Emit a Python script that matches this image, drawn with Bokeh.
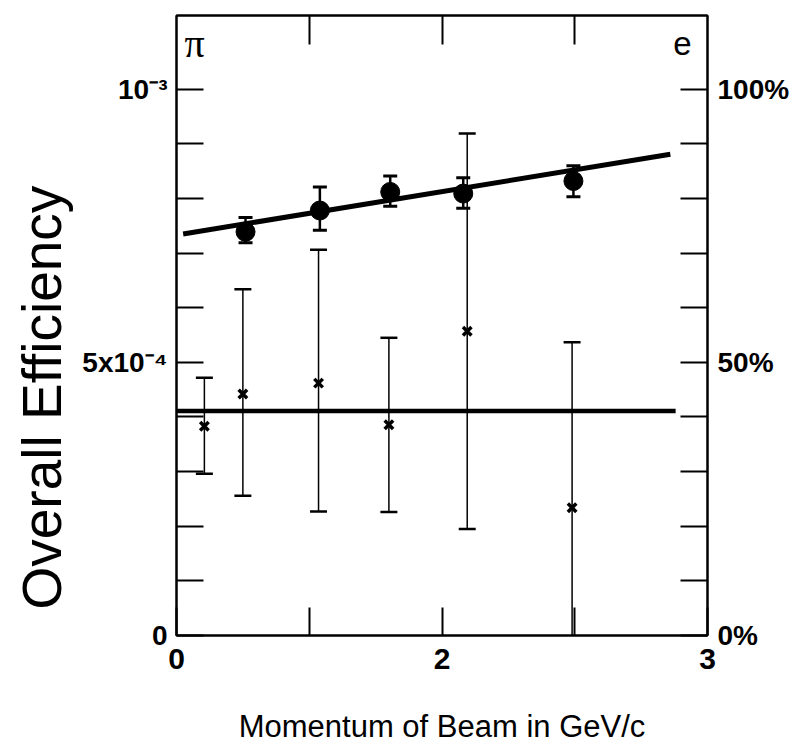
from bokeh.plotting import figure
from bokeh.models import (Range1d, LinearAxis, FixedTicker, Whisker, ColumnDataSource,
                          Label, TeeHead, Title)
from bokeh.embed import file_html
from bokeh.resources import INLINE

# ---------------- data (efficiency in units of 1e-4) ----------------
# electrons (filled circles)
p_e = [0.52, 1.08, 1.61, 2.16, 2.99]
eff_e = [7.39, 7.78, 8.12, 8.09, 8.32]
eff_e_hi = [7.65, 8.21, 8.41, 8.38, 8.60]
eff_e_lo = [7.19, 7.42, 7.86, 7.82, 8.03]

# pions (crosses)
p_pi = [0.21, 0.50, 1.07, 1.60, 2.19, 2.98]
eff_pi = [3.83, 4.42, 4.62, 3.86, 5.57, 2.34]
eff_pi_hi = [4.72, 6.34, 7.06, 5.45, 9.19, 5.37]
eff_pi_lo = [2.96, 2.56, 2.27, 2.26, 1.95, -0.53]

# fitted lines
fit_e_x = [0.05, 3.72]
fit_e_y = [7.35, 8.81]
fit_pi_x = [0.0, 3.76]
fit_pi_y = [4.11, 4.11]

# axes
x_ticks = [0, 1, 2, 3, 4]
x_tick_labels = {0: "0", 1: "", 2: "2", 3: "", 4: "3"}
y_ticks = list(range(0, 11))
y_left_labels = {0: "0", 5: "5x10\u207b\u2074", 10: "10\u207b\u00b3"}
y_right_labels = {0: "0%", 5: "50%", 10: "100%"}

FONT = "Liberation Sans"

p = figure(width=792, height=746, x_range=Range1d(0, 4), y_range=Range1d(0, 11.35),
           output_backend="svg", toolbar_location=None,
           min_border_left=176, min_border_right=84, min_border_top=15, min_border_bottom=111)
p.grid.visible = False
p.outline_line_color = "black"
p.outline_line_width = 2
p.background_fill_color = "white"
p.border_fill_color = "white"

def style_axis(ax, ticks, labels, size, tick_len):
    ax.ticker = FixedTicker(ticks=ticks)
    ax.major_label_overrides = {k: labels.get(k, "") for k in ticks}
    ax.major_tick_in = tick_len
    ax.major_tick_out = 0
    ax.minor_tick_line_color = None
    ax.major_tick_line_width = 2
    ax.major_tick_line_color = "black"
    ax.axis_line_width = 2
    ax.axis_line_color = "black"
    ax.major_label_text_font = FONT
    ax.major_label_text_font_style = "bold"
    ax.major_label_text_font_size = size
    ax.major_label_text_color = "black"

xb = p.xaxis[0]
style_axis(xb, x_ticks, x_tick_labels, "30px", 28)
xb.major_label_standoff = 13
xb.axis_label = "Momentum of Beam in GeV/c"
xb.axis_label_text_font = FONT
xb.axis_label_text_font_style = "normal"
xb.axis_label_text_font_size = "31px"
xb.axis_label_text_color = "black"
xb.axis_label_standoff = 37

yl = p.yaxis[0]
style_axis(yl, y_ticks, y_left_labels, "28px", 27)
yl.major_label_standoff = 9

yr = LinearAxis()
style_axis(yr, y_ticks, y_right_labels, "28px", 27)
yr.major_label_standoff = 10
p.add_layout(yr, "right")

xt = LinearAxis()
style_axis(xt, [1, 2, 3], {}, "0px", 29)
xt.major_label_standoff = 0
p.add_layout(xt, "above")

# y axis title, placed lower than the frame centre as in the original
p.add_layout(Title(text="Overall Efficiency", align="left", offset=26,
                   text_font=FONT, text_font_style="normal", text_font_size="55px",
                   text_color="black", standoff=14), "left")

# fitted lines
p.line(fit_e_x, fit_e_y, line_width=5, line_color="black")
p.line(fit_pi_x, fit_pi_y, line_width=4.5, line_color="black")

# error bars
src_e = ColumnDataSource(dict(x=p_e, y=eff_e, hi=eff_e_hi, lo=eff_e_lo))
src_pi = ColumnDataSource(dict(x=p_pi, y=eff_pi, hi=eff_pi_hi, lo=eff_pi_lo))

w_pi = Whisker(source=src_pi, base="x", upper="hi", lower="lo", dimension="height",
               line_width=1.5, line_color="black",
               upper_head=TeeHead(size=17, line_width=2.5, line_color="black"),
               lower_head=TeeHead(size=17, line_width=2.5, line_color="black"))
p.add_layout(w_pi)
w_e = Whisker(source=src_e, base="x", upper="hi", lower="lo", dimension="height",
              line_width=2.5, line_color="black",
              upper_head=TeeHead(size=14, line_width=3, line_color="black"),
              lower_head=TeeHead(size=14, line_width=3, line_color="black"))
p.add_layout(w_e)

p.scatter("x", "y", source=src_e, marker="circle", size=19,
          fill_color="black", line_color="black")
p.scatter("x", "y", source=src_pi, marker="x", size=12, line_width=3.5,
          line_color="black")

# particle labels
p.add_layout(Label(x=0.06, y=10.83, text="\u03c0", text_font="Liberation Serif",
                   text_baseline="alphabetic", text_font_size="40px", text_color="black"))
p.add_layout(Label(x=3.88, y=10.83, text="e", text_font=FONT, text_align="right",
                   text_baseline="alphabetic", text_font_size="33px", text_color="black"))

open("out.html", "w").write(file_html(p, INLINE))
